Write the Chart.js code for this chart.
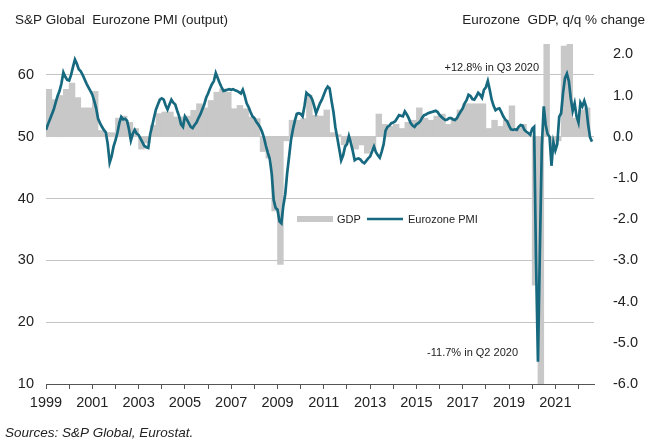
<!DOCTYPE html>
<html>
<head>
<meta charset="utf-8">
<script src="https://cdn.jsdelivr.net/npm/chart.js@4.4.1/dist/chart.umd.min.js"></script>
<style>
  html, body { margin: 0; padding: 0; background: #fff; }
  #wrap { width: 648px; height: 443px; }
</style>
</head>
<body>
<div id="wrap"><canvas id="chart"></canvas></div>
<script>
// Eurozone composite PMI output index, monthly, Jan 1999 - Aug 2022
const pmi = [
  51.1, 52.0, 52.8, 53.6, 54.4, 55.5, 56.6, 57.4, 58.6, 60.4, 59.7, 59.2, // 1999
  59.1, 60.0, 61.3, 62.5, 61.8, 60.9, 60.6, 60.0, 59.3, 58.6, 58.0, 57.4, // 2000
  56.8, 55.8, 54.6, 52.9, 52.2, 51.6, 51.1, 50.7, 48.8, 45.8, 46.8, 48.4, // 2001
  49.4, 50.6, 52.2, 53.2, 52.8, 52.9, 52.6, 51.2, 49.4, 50.5, 51.1, 50.5, // 2002
  50.3, 49.7, 49.1, 48.5, 48.3, 48.2, 50.4, 51.7, 53.1, 54.4, 55.2, 56.0, // 2003
  56.2, 56.0, 55.1, 54.4, 55.2, 56.0, 55.5, 55.2, 54.2, 53.3, 52.0, 51.6, // 2004
  53.3, 52.8, 52.2, 51.6, 51.4, 51.9, 52.3, 53.0, 53.6, 54.4, 55.2, 56.3, // 2005
  57.0, 57.8, 58.5, 59.0, 60.3, 59.5, 58.7, 58.0, 57.4, 57.5, 57.6, 57.7, // 2006
  57.6, 57.7, 57.5, 57.4, 57.2, 57.0, 57.6, 56.6, 55.4, 54.8, 54.0, 53.3, // 2007
  53.0, 52.4, 52.0, 51.5, 50.8, 49.8, 48.5, 47.4, 46.4, 44.0, 39.8, 38.5, // 2008
  38.2, 36.3, 36.0, 38.8, 40.7, 44.1, 46.8, 49.5, 51.2, 52.6, 53.7, 53.8, // 2009
  53.7, 53.3, 55.0, 57.1, 56.8, 56.6, 56.0, 55.0, 53.8, 54.6, 55.4, 56.0, // 2010
  56.8, 57.6, 58.1, 57.8, 55.8, 54.0, 51.5, 49.8, 48.0, 46.2, 47.0, 48.4, // 2011
  48.8, 50.1, 49.0, 47.7, 46.2, 46.4, 46.5, 46.3, 45.9, 45.7, 46.1, 46.5, // 2012
  46.8, 47.6, 48.4, 47.5, 47.0, 46.6, 47.6, 48.8, 51.0, 51.6, 51.8, 52.2, // 2013
  52.3, 52.5, 53.0, 53.5, 53.4, 53.3, 54.1, 53.6, 53.0, 52.2, 51.8, 51.6, // 2014
  52.0, 52.2, 52.5, 53.1, 53.5, 53.6, 53.8, 53.9, 54.0, 54.1, 54.2, 54.0, // 2015
  53.5, 53.2, 52.9, 52.7, 52.8, 53.0, 53.0, 52.8, 52.7, 53.0, 53.6, 54.1, // 2016
  54.6, 55.4, 55.9, 56.8, 56.6, 56.1, 56.0, 56.5, 57.1, 56.8, 56.3, 57.6, // 2017
  58.0, 59.0, 57.6, 56.0, 55.0, 54.3, 54.5, 54.6, 54.0, 53.3, 52.8, 52.5, // 2018
  51.8, 51.2, 51.1, 51.2, 51.1, 51.6, 51.9, 51.8, 51.1, 50.8, 50.6, 50.3, // 2019
  51.3, 51.6, 29.7, 13.6, 31.9, 48.5, 54.9, 51.9, 50.4, 50.0, 45.3, 49.1, // 2020
  47.8, 48.8, 53.2, 53.8, 57.1, 59.5, 60.2, 59.0, 56.2, 54.2, 55.4, 53.3, // 2021
  52.3, 55.5, 54.9, 55.8, 54.8, 52.0, 49.9, 49.2                          // 2022
];

// Eurozone GDP, q/q % change, Q1 1999 - Q2 2022
const gdp = [
  1.15, 0.9, 1.0, 1.15,     // 1999
  1.3, 0.95, 0.7, 0.7,      // 2000
  1.1, 0.15, 0.1, 0.1,      // 2001
  0.45, 0.5, 0.35, 0.2,     // 2002
  -0.3, -0.15, 0.28, 0.56,  // 2003
  0.6, 0.6, 0.48, 0.48,     // 2004
  0.5, 0.64, 0.8, 0.7,      // 2005
  0.88, 1.08, 1.16, 1.08,   // 2006
  0.68, 0.76, 0.68, 0.48,   // 2007
  0.44, -0.36, -0.52, -1.8, // 2008
  -3.1, -0.1, 0.4, 0.4,     // 2009
  0.44, 1.0, 0.52, 0.5,     // 2010
  0.65, 0.1, 0.05, -0.2,    // 2011
  -0.1, -0.3, -0.2, -0.4,   // 2012
  -0.3, 0.55, 0.3, 0.25,    // 2013
  0.3, 0.2, 0.35, 0.4,      // 2014
  0.7, 0.45, 0.4, 0.5,      // 2015
  0.55, 0.3, 0.45, 0.65,    // 2016
  0.8, 0.8, 0.8, 0.8,       // 2017
  0.2, 0.4, 0.25, 0.4,      // 2018
  0.75, 0.2, 0.3, 0.05,     // 2019
  -3.6, -11.7, 12.8, -0.3,  // 2020
  -0.1, 2.2, 2.3, 0.45,     // 2021
  0.65, 0.7                 // 2022
];

const yearTicks = [];
for (let y = 1999; y <= 2022; y++) yearTicks.push(y);
const pmiTicks = [10, 20, 30, 40, 50, 60];
const gdpTicks = [-6, -5, -4, -3, -2, -1, 0, 1, 2];

const pmiPoints = pmi.map((v, i) => ({ x: 1999 + i / 12, y: v }));
const gdpPoints = gdp.map((v, i) => ({ x: 1999 + i / 4 + 0.125, y: v }));

const teal = '#16697f';
const barGrey = '#c8c8c8';
const font = "'Liberation Sans', Arial, sans-serif";

const textPlugin = {
  id: 'texts',
  afterDraw(chart) {
    const c = chart.ctx;
    c.save();
    c.fillStyle = '#222';
    c.textBaseline = 'alphabetic';
    c.font = '13.5px ' + font;
    c.textAlign = 'left';
    c.fillText('S&P Global  Eurozone PMI (output)', 15, 24);
    c.textAlign = 'right';
    c.fillText('Eurozone  GDP, q/q % change', 645, 24);

    c.font = '11px ' + font;
    c.fillText('+12.8% in Q3 2020', 539, 71);
    c.fillText('-11.7% in Q2 2020', 518, 356);

    // legend
    c.fillStyle = barGrey;
    c.fillRect(297, 216, 36, 6);
    c.strokeStyle = teal;
    c.lineWidth = 2.5;
    c.beginPath(); c.moveTo(367, 219); c.lineTo(403, 219); c.stroke();
    c.fillStyle = '#222';
    c.textAlign = 'left';
    c.fillText('GDP', 337, 223);
    c.fillText('Eurozone PMI', 408, 223);

    c.font = 'italic 13.5px ' + font;
    c.fillText('Sources: S&P Global, Eurostat.', 5, 437);
    c.restore();
  }
};

new Chart(document.getElementById('chart'), {
  data: {
    datasets: [
      {
        type: 'line',
        label: 'Eurozone PMI',
        data: pmiPoints,
        yAxisID: 'y',
        borderColor: teal,
        borderWidth: 2.7,
        pointRadius: 0,
        tension: 0,
        order: 1
      },
      {
        type: 'bar',
        label: 'GDP',
        data: gdpPoints,
        yAxisID: 'y1',
        backgroundColor: barGrey,
        borderWidth: 0,
        barPercentage: 1,
        categoryPercentage: 1,
        order: 2
      }
    ]
  },
  options: {
    responsive: true,
    maintainAspectRatio: false,
    animation: false,
    layout: { padding: { top: 44, bottom: 0, left: 0, right: 0 } },
    plugins: { legend: { display: false }, tooltip: { enabled: false } },
    scales: {
      x: {
        type: 'linear',
        offset: false,
        min: 1999,
        max: 2022.67,
        afterBuildTicks: s => { s.ticks = yearTicks.map(v => ({ value: v })); },
        afterFit: s => { s.height = 59; },
        grid: { display: true, offset: false, drawOnChartArea: false, drawTicks: true, tickLength: 5, color: '#555' },
        border: { display: true, color: '#555', width: 1 },
        ticks: {
          autoSkip: false,
          maxRotation: 0,
          padding: 5,
          color: '#222',
          font: { family: font, size: 14.5 },
          callback: v => (v % 2 === 1 ? String(v) : '')
        }
      },
      y: {
        position: 'left',
        min: 10,
        max: 65,
        afterBuildTicks: s => { s.ticks = pmiTicks.map(v => ({ value: v })); },
        afterFit: s => { s.width = 46; },
        grid: { color: '#c4c4c4', lineWidth: 1, drawTicks: false },
        border: { display: false },
        ticks: { padding: 12, color: '#222', font: { family: font, size: 14.5 } }
      },
      y1: {
        position: 'right',
        min: -6,
        max: 2.25,
        afterBuildTicks: s => { s.ticks = gdpTicks.map(v => ({ value: v })); },
        afterFit: s => { s.width = 54; },
        grid: { display: false },
        border: { display: false },
        ticks: {
          padding: 11,
          color: '#222',
          font: { family: font, size: 14.5 },
          callback: v => v.toFixed(1)
        }
      }
    }
  },
  plugins: [textPlugin]
});
</script>
</body>
</html>
